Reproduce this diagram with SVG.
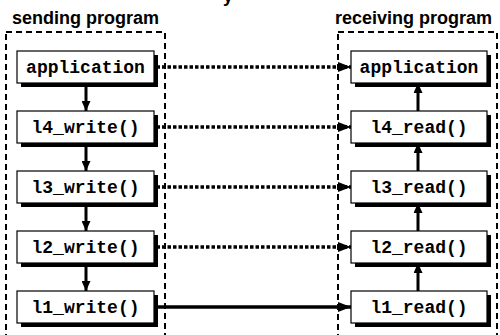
<svg xmlns="http://www.w3.org/2000/svg" width="500" height="335" viewBox="0 0 500 335">
<style>
.title{font-family:"Liberation Sans",Arial,sans-serif;font-weight:bold;font-size:18px;fill:#000}
.lbl{font-family:"Liberation Mono","Courier New",monospace;font-weight:bold;font-size:18px;fill:#000;text-anchor:middle}
.box{fill:#fff;stroke:#000;stroke-width:1.2}
.shadow{fill:#000}
.frame{fill:none;stroke:#000;stroke-width:2;stroke-dasharray:6 4}
.dot{fill:none;stroke:#000;stroke-width:3.5;stroke-dasharray:3.5 2}
.solid{fill:none;stroke:#000;stroke-width:3.5}
.vert{fill:none;stroke:#000;stroke-width:3}
</style>
<defs>
<marker id="ah" markerUnits="userSpaceOnUse" viewBox="0 0 13 10" refX="13" refY="5" markerWidth="13" markerHeight="10" orient="auto">
<path d="M0,0 L13,5 L0,10 Z" fill="#000"/>
</marker>
<marker id="av" markerUnits="userSpaceOnUse" viewBox="0 0 10 9" refX="10" refY="4.5" markerWidth="10" markerHeight="9" orient="auto">
<path d="M0,0 L10,4.5 L0,9 Z" fill="#000"/>
</marker>
</defs>
<rect width="500" height="335" fill="#fff"/>
<text class="title" x="223" y="2">y</text>
<g id="sending">
<text class="title" x="12" y="24">sending program</text>
<rect class="frame" x="6" y="32" width="159" height="310"/>
</g>
<g id="receiving">
<text class="title" x="335" y="24">receiving program</text>
<rect class="frame" x="338" y="32" width="159" height="310"/>
</g>
<g id="connectors">
<line class="dot" x1="151" y1="67" x2="351" y2="67" marker-end="url(#ah)"/>
<line class="dot" x1="151" y1="127" x2="351" y2="127" marker-end="url(#ah)"/>
<line class="dot" x1="151" y1="187" x2="351" y2="187" marker-end="url(#ah)"/>
<line class="dot" x1="151" y1="247" x2="351" y2="247" marker-end="url(#ah)"/>
<line class="solid" x1="151" y1="307" x2="351" y2="307" marker-end="url(#ah)"/>
<line class="vert" x1="86" y1="83" x2="86" y2="111" marker-end="url(#av)"/>
<line class="vert" x1="86" y1="143" x2="86" y2="171" marker-end="url(#av)"/>
<line class="vert" x1="86" y1="203" x2="86" y2="231" marker-end="url(#av)"/>
<line class="vert" x1="86" y1="263" x2="86" y2="291" marker-end="url(#av)"/>
<line class="vert" x1="418" y1="291" x2="418" y2="263" marker-end="url(#av)"/>
<line class="vert" x1="418" y1="231" x2="418" y2="203" marker-end="url(#av)"/>
<line class="vert" x1="418" y1="171" x2="418" y2="143" marker-end="url(#av)"/>
<line class="vert" x1="418" y1="111" x2="418" y2="83" marker-end="url(#av)"/>
</g>
<g id="s-application">
<rect class="shadow" x="21" y="55" width="137" height="32"/>
<rect class="box" x="17" y="51" width="137" height="32"/>
<text class="lbl" x="85.5" y="73">application</text>
</g>
<g id="s-l4">
<rect class="shadow" x="21" y="115" width="137" height="32"/>
<rect class="box" x="17" y="111" width="137" height="32"/>
<text class="lbl" x="85.5" y="133">l4_write()</text>
</g>
<g id="s-l3">
<rect class="shadow" x="21" y="175" width="137" height="32"/>
<rect class="box" x="17" y="171" width="137" height="32"/>
<text class="lbl" x="85.5" y="193">l3_write()</text>
</g>
<g id="s-l2">
<rect class="shadow" x="21" y="235" width="137" height="32"/>
<rect class="box" x="17" y="231" width="137" height="32"/>
<text class="lbl" x="85.5" y="253">l2_write()</text>
</g>
<g id="s-l1">
<rect class="shadow" x="21" y="295" width="137" height="32"/>
<rect class="box" x="17" y="291" width="137" height="32"/>
<text class="lbl" x="85.5" y="313">l1_write()</text>
</g>
<g id="r-application">
<rect class="shadow" x="355" y="55" width="136" height="32"/>
<rect class="box" x="351" y="51" width="136" height="32"/>
<text class="lbl" x="419" y="73">application</text>
</g>
<g id="r-l4">
<rect class="shadow" x="355" y="115" width="136" height="32"/>
<rect class="box" x="351" y="111" width="136" height="32"/>
<text class="lbl" x="419" y="133">l4_read()</text>
</g>
<g id="r-l3">
<rect class="shadow" x="355" y="175" width="136" height="32"/>
<rect class="box" x="351" y="171" width="136" height="32"/>
<text class="lbl" x="419" y="193">l3_read()</text>
</g>
<g id="r-l2">
<rect class="shadow" x="355" y="235" width="136" height="32"/>
<rect class="box" x="351" y="231" width="136" height="32"/>
<text class="lbl" x="419" y="253">l2_read()</text>
</g>
<g id="r-l1">
<rect class="shadow" x="355" y="295" width="136" height="32"/>
<rect class="box" x="351" y="291" width="136" height="32"/>
<text class="lbl" x="419" y="313">l1_read()</text>
</g>
</svg>
